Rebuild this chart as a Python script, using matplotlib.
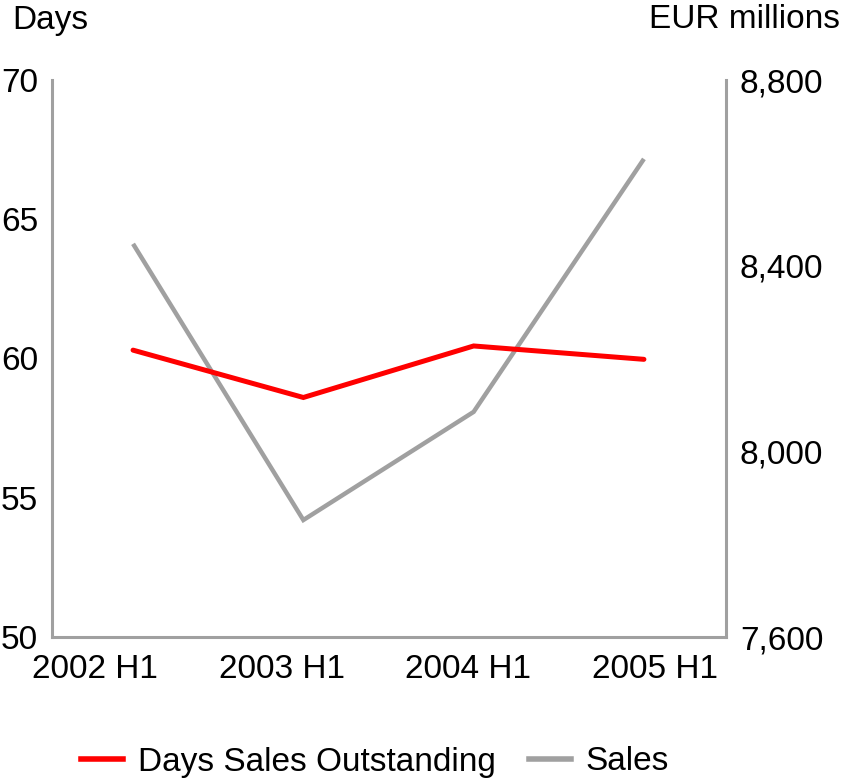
import matplotlib
matplotlib.use("Agg")
import matplotlib.pyplot as plt
from matplotlib.lines import Line2D

plt.rcParams['font.family'] = ['Liberation Sans', 'DejaVu Sans']

periods = ["2002 H1", "2003 H1", "2004 H1", "2005 H1"]
dso_days = [60.3, 58.6, 60.45, 59.97]
sales_eur_m = [8447, 7852, 8085, 8630]

left_ticks = [50, 55, 60, 65, 70]
right_ticks = [7600, 8000, 8400, 8800]

RED = "#ff0000"
GREY = "#a0a0a0"
FS = 24

fig = plt.figure(figsize=(8.42, 7.79), dpi=100)
W, H = 842, 779
rect = [52 / W, 1 - 637 / H, (726 - 52) / W, (637 - 80) / H]
ax = fig.add_axes(rect)
ax2 = ax.twinx()
# separate axis that carries the category labels along the bottom
axl = fig.add_axes(rect, frameon=False)

x = list(range(len(periods)))
ax.plot(x, dso_days, color=RED, lw=3.6, solid_capstyle="round",
        solid_joinstyle="miter", zorder=3)
ax2.plot(x, sales_eur_m, color=GREY, lw=3.2, solid_capstyle="butt",
         solid_joinstyle="miter", zorder=2)
ax.set_zorder(ax2.get_zorder() + 1)
ax.patch.set_visible(False)

ax.set_xlim(-0.476, 3.482)
ax.set_ylim(50, 70)
ax2.set_ylim(7600, 8800)
ax.set_xticks([])
ax.set_yticks(left_ticks)
ax.set_yticklabels([str(v) for v in left_ticks], fontsize=FS)
ax2.set_yticks(right_ticks)
ax2.set_yticklabels([f"{v:,}" for v in right_ticks], fontsize=FS)

axl.set_xlim(-0.23, 3.38)
axl.set_xticks(x)
axl.set_xticklabels(periods, fontsize=FS)
axl.set_yticks([])
axl.patch.set_visible(False)
axl.tick_params(length=0, pad=12)

for a in (ax, ax2):
    a.tick_params(length=0)
    a.spines["top"].set_visible(False)
    for s in ("left", "right", "bottom"):
        a.spines[s].set_color(GREY)
        a.spines[s].set_linewidth(2.2)
ax.spines["right"].set_visible(False)
ax2.spines["left"].set_visible(False)
ax2.spines["bottom"].set_visible(False)
ax.tick_params(axis="y", pad=10)
ax2.tick_params(axis="y", pad=10)

fig.text(12 / W, 1 - 20 / H, "Days", fontsize=FS, ha="left", va="center")
fig.text(840 / W, 1 - 20 / H, "EUR millions", fontsize=FS, ha="right", va="center")

handles = [Line2D([], [], color=RED, lw=4),
           Line2D([], [], color=GREY, lw=4)]
fig.legend(handles, ["Days Sales Outstanding", "Sales"], loc="center",
           bbox_to_anchor=(375 / W, 1 - 762 / H), ncol=2, frameon=False,
           fontsize=FS, handlelength=1.25, columnspacing=1.0, handletextpad=0.45)

fig.savefig("out.png", dpi=100)
